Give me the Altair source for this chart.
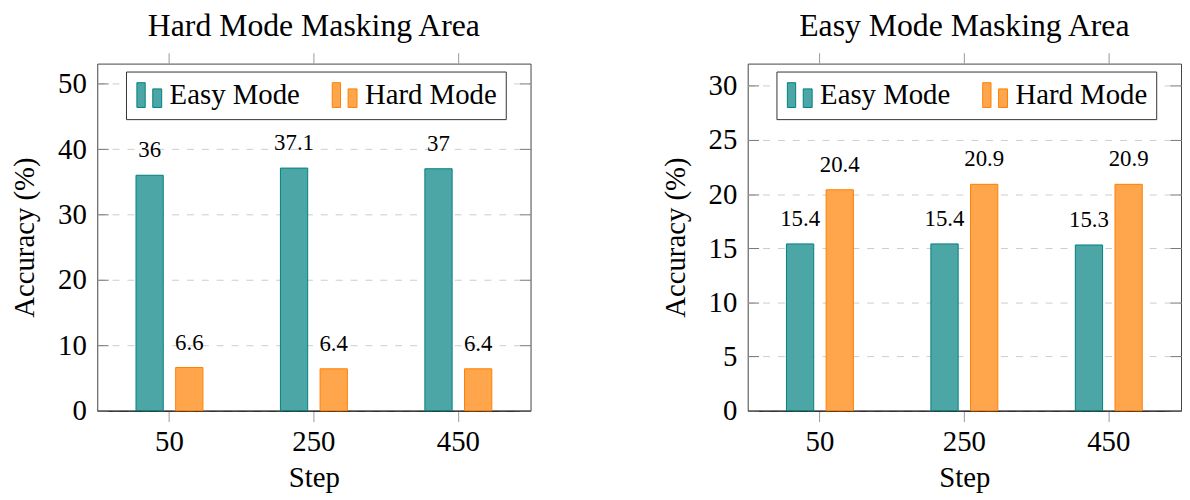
import altair as alt
import pandas as pd

steps = ["50", "250", "450"]
modes = ["Easy Mode", "Hard Mode"]
hard_area_easy = [36, 37.1, 37]
hard_area_hard = [6.6, 6.4, 6.4]
easy_area_easy = [15.4, 15.4, 15.3]
easy_area_hard = [20.4, 20.9, 20.9]

fill_colors = ["#4DA6A6", "#FFA64D"]
stroke_colors = ["#008080", "#FF8000"]

FONT = "Liberation Serif"
LEGEND_SYMBOL = "M-1,-1H-0.33V1H-1Z M0.28,-0.5H1V1H0.28Z"


def make_df(easy, hard):
    rows = []
    for s, e, h in zip(steps, easy, hard):
        rows.append({"Step": s, "Mode": modes[0], "Accuracy": e})
        rows.append({"Step": s, "Mode": modes[1], "Accuracy": h})
    return pd.DataFrame(rows)


def panel(df, title, ymax, yticks):
    xscale = alt.Scale(paddingInner=0, paddingOuter=0)
    xoff = alt.XOffset("Mode:N", sort=modes,
                       scale=alt.Scale(paddingInner=0.3125, paddingOuter=0.977))
    yscale = alt.Scale(domain=[0, ymax], nice=False, zero=True)

    bars = alt.Chart(df).mark_bar(strokeWidth=1).encode(
        x=alt.X("Step:N", sort=steps, scale=xscale,
                axis=alt.Axis(orient="bottom", title="Step", domain=True,
                              domainColor="black", domainWidth=1,
                              ticks=True, tickSize=11, tickColor="#999999",
                              labelAngle=0, labelPadding=6, titlePadding=8)),
        xOffset=xoff,
        y=alt.Y("Accuracy:Q", scale=yscale,
                axis=alt.Axis(orient="left", values=yticks, title="Accuracy (%)",
                              offset=-11, tickSize=11, ticks=True,
                              tickColor="#777777", domain=False,
                              labelPadding=11, titlePadding=18,
                              grid=True, gridColor="#cccccc",
                              gridDash=[7, 8], gridWidth=1)),
        fill=alt.Fill("Mode:N", sort=modes,
                      scale=alt.Scale(domain=modes, range=fill_colors),
                      legend=alt.Legend(title=None)),
        stroke=alt.Stroke("Mode:N", sort=modes,
                          scale=alt.Scale(domain=modes, range=stroke_colors),
                          legend=alt.Legend(title=None)),
    )

    text = alt.Chart(df).mark_text(baseline="bottom", dy=-13, fontSize=23,
                                   font=FONT, color="black").encode(
        x=alt.X("Step:N", sort=steps, scale=xscale,
                axis=alt.Axis(orient="top", title=None, labels=False,
                              domain=False, ticks=True, tickSize=11,
                              tickColor="#999999")),
        xOffset=xoff,
        y=alt.Y("Accuracy:Q", scale=yscale,
                axis=alt.Axis(orient="right", values=yticks, title=None,
                              labels=False, domain=False, grid=False,
                              offset=-11, tickSize=11, ticks=True,
                              tickColor="#777777")),
        text=alt.Text("Accuracy:Q", format=".1~f"),
    )

    return alt.layer(bars, text).properties(
        width=437, height=350,
        title=alt.TitleParams(title, font=FONT, fontSize=32, fontWeight="normal",
                              anchor="middle", offset=9, color="black"),
    ).resolve_scale(fill="independent", stroke="independent")


left = panel(make_df(hard_area_easy, hard_area_hard), "Hard Mode Masking Area",
             53.08, [0, 10, 20, 30, 40, 50])
right = panel(make_df(easy_area_easy, easy_area_hard), "Easy Mode Masking Area",
              32.05, [0, 5, 10, 15, 20, 25, 30])

chart = alt.hconcat(left, right, spacing=130).resolve_scale(
    fill="independent", stroke="independent"
).resolve_legend(fill="independent", stroke="independent").configure(
    padding={"left": 2, "top": 0, "right": 0, "bottom": 0},
    font=FONT,
).configure_view(
    stroke="#444444", strokeWidth=1
).configure_axis(
    labelFont=FONT, labelFontSize=29, labelColor="black",
    titleFont=FONT, titleFontSize=29, titleFontWeight="normal", titleColor="black",
).configure_legend(
    orient="none", legendX=29, legendY=8, direction="horizontal",
    strokeColor="#333333", fillColor="white", padding=9,
    symbolType=LEGEND_SYMBOL, symbolSize=625, symbolStrokeWidth=1,
    symbolOpacity=1,
    labelFont=FONT, labelFontSize=29, labelColor="black", labelOffset=6,
    columnPadding=30, cornerRadius=0,
)

chart.save("out.html", embed_options={"renderer": "svg", "actions": False})
